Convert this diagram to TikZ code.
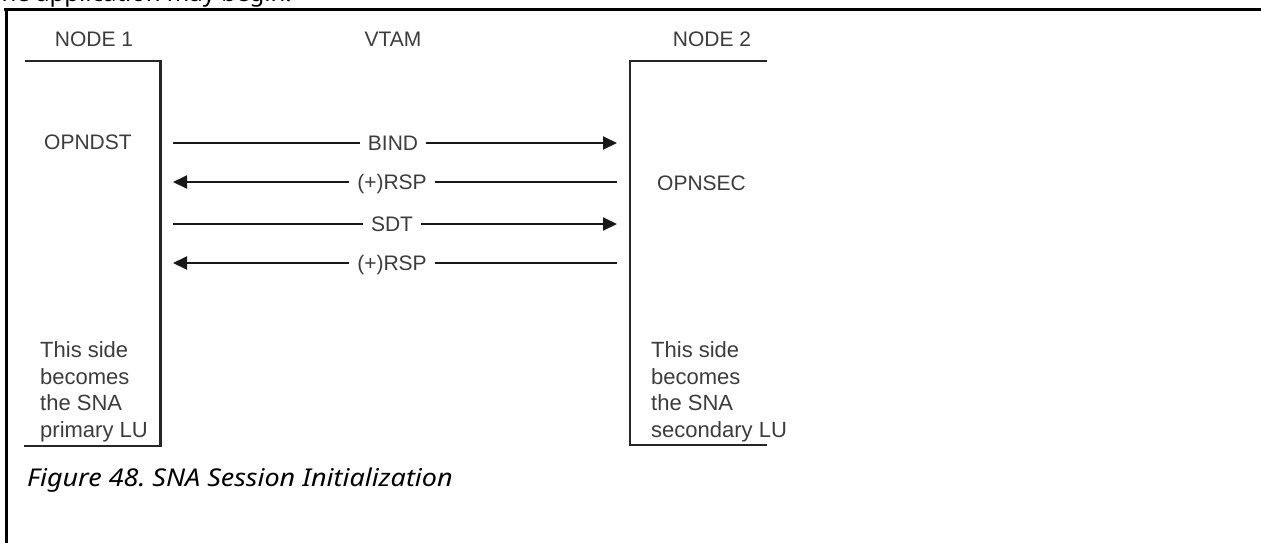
\documentclass[tikz,border=0pt]{standalone}
\usepackage{fontspec}
\usetikzlibrary{arrows.meta}
\newfontfamily\diagfont{Liberation Sans}
\newfontfamily\capfont[FakeStretch=1.1]{Noto Sans}
\newfontfamily\topfont{Noto Sans}
\definecolor{txtgray}{HTML}{3C3C3C}
\definecolor{linegray}{HTML}{262626}
\frenchspacing
\tikzset{
  lbl/.style={font=\diagfont\fontsize{21}{27}\selectfont, text=txtgray, inner sep=0pt, anchor=base},
  sidetxt/.style={lbl, font=\diagfont\fontsize{22}{26.4}\selectfont, align=left, anchor=base west},
  boxline/.style={line width=2.2pt, draw=linegray},
  frameline/.style={line width=2.6pt, draw=black},
  msg/.style={line width=1.9pt, draw=black!90},
  msgtip/.style={msg, -{Triangle[length=14pt,width=13pt]}},
  msglbl/.style={lbl, inner xsep=8pt},
}
\begin{document}
\begin{tikzpicture}[x=1pt,y=-1pt]
\useasboundingbox (0,0) rectangle (1261,542);
\begin{scope}
\clip (0,0) rectangle (1261,542);
\node[font=\topfont\fontsize{24}{28}\selectfont, inner sep=0pt, anchor=base west] (toptxt) at (-12,1.5) {The application may begin.};
\end{scope}
% frame
\draw[frameline] (4,9.5) -- (1262,9.5);
\draw[frameline] (6.5,8.2) -- (6.5,543);
% headings
\node[lbl] (n1) at (94,46) {NODE 1};
\node[lbl] (vtam) at (393,46) {VTAM};
\node[lbl] (n2) at (712,46) {NODE 2};
% node boxes
\draw[boxline] (25,61) -- (160.5,61) -- (160.5,446) -- (24,446);
\draw[boxline] (767,61) -- (630,61) -- (630,445) -- (767,445);
% names
\node[lbl, anchor=base west] (opndst) at (44,149) {OPNDST};
\node[lbl, anchor=base west] (opnsec) at (657,190) {OPNSEC};
% message endpoints
\coordinate (l1) at (173,143); \coordinate (r1) at (617,143);
\coordinate (l2) at (173,182); \coordinate (r2) at (617,182);
\coordinate (l3) at (173,224); \coordinate (r3) at (617,224);
\coordinate (l4) at (173,263); \coordinate (r4) at (617,263);
\node[msglbl] (m1) at (393,150.5) {BIND};
\node[msglbl] (m2) at (392,189.5) {(+)RSP};
\node[msglbl] (m3) at (392,231.5) {SDT};
\node[msglbl] (m4) at (392,270.5) {(+)RSP};
\draw[msg] (l1) -- (l1 -| m1.west);
\draw[msgtip] (r1 -| m1.east) -- (r1);
\draw[msgtip] (l2 -| m2.west) -- (l2);
\draw[msg] (r2) -- (r2 -| m2.east);
\draw[msg] (l3) -- (l3 -| m3.west);
\draw[msgtip] (r3 -| m3.east) -- (r3);
\draw[msgtip] (l4 -| m4.west) -- (l4);
\draw[msg] (r4) -- (r4 -| m4.east);
% side notes (base = last line)
\node[sidetxt] (s1) at (40,437) {This side\\becomes\\the SNA\\primary LU};
\node[sidetxt] (s2) at (651,437) {This side\\becomes\\the SNA\\secondary LU};
% caption
\node[font=\capfont\itshape\fontsize{24.5}{28}\selectfont, text=black, inner sep=0pt, anchor=base west] (caption) at (27,486) {Figure 48. SNA Session Initialization};
\end{tikzpicture}
\end{document}
